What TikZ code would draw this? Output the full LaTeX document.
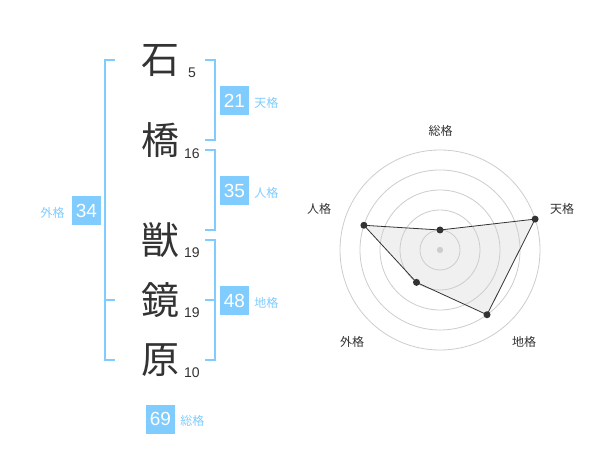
\documentclass[tikz,border=0pt]{standalone}
\usepackage{fontspec}
\setmainfont{Liberation Sans}
\newfontfamily\cjk{Noto Sans CJK JP}
\definecolor{accent}{RGB}{128,204,255}
\definecolor{ink}{RGB}{51,51,51}
\definecolor{ringc}{RGB}{205,205,205}
\definecolor{areac}{RGB}{240,240,240}
\tikzset{
  kanji/.style={inner sep=0pt, text=ink, font=\cjk\fontsize{38}{38}\selectfont},
  strokes/.style={inner sep=0pt, anchor=base, text=ink, font=\fontsize{14}{14}\selectfont},
  numbox/.style={fill=accent, text=white, minimum size=29pt, inner sep=0pt, font=\fontsize{19}{19}\selectfont},
  boxlbl/.style={inner sep=0pt, text=accent, font=\cjk\fontsize{12}{12}\selectfont},
  bracket/.style={draw=accent, line width=2pt},
  ring/.style={draw=ringc, line width=0.8pt},
  radarlbl/.style={inner sep=0pt, text=ink, font=\cjk\fontsize{12}{12}\selectfont},
  dot/.style={circle, fill=ink, inner sep=0pt, minimum size=7pt},
  edge/.style={draw=ink, line width=0.8pt},
}
\begin{document}
\begin{tikzpicture}[x=1pt,y=-1pt]
\useasboundingbox (0,0) rectangle (600,470);
\fill[white] (0,0) rectangle (600,470);

% characters
\node[kanji] (k1) at (160,61) {石};
\node[kanji] (k2) at (160,140) {橋};
\node[kanji] (k3) at (160,240) {獣};
\node[kanji] (k4) at (160,300) {鏡};
\node[kanji] (k5) at (160,360) {原};

\node[strokes] (s1) at (192,77.7) {5};
\node[strokes] (s2) at (192,158.3) {16};
\node[strokes] (s3) at (192,257.5) {19};
\node[strokes] (s4) at (192,317.7) {19};
\node[strokes] (s5) at (192,377.7) {10};

% brackets
\draw[bracket] (205,60) -- (215,60) -- (215,140) -- (205,140);
\draw[bracket] (205,150) -- (215,150) -- (215,230) -- (205,230);
\draw[bracket] (205,240) -- (215,240) -- (215,360) -- (205,360);
\draw[bracket] (205,300) -- (215,300);
\draw[bracket] (115,60) -- (105,60) -- (105,360) -- (115,360);
\draw[bracket] (105,300) -- (115,300);

% boxes
\node[numbox] (b21) at (234.5,100.5) {21};
\node[numbox] (b35) at (234.5,190.5) {35};
\node[numbox] (b48) at (234.5,300.5) {48};
\node[numbox] (b34) at (86.5,210.5) {34};
\node[numbox] (b69) at (160.5,419) {69};

\node[boxlbl, anchor=base west] (l21) at ([xshift=5pt]b21.base east) {天格};
\node[boxlbl, anchor=base west] (l35) at ([xshift=5pt]b35.base east) {人格};
\node[boxlbl, anchor=base west] (l48) at ([xshift=5pt]b48.base east) {地格};
\node[boxlbl, anchor=base east] (l34) at ([xshift=-7pt]b34.base west) {外格};
\node[boxlbl, anchor=base west] (l69) at ([xshift=5pt]b69.base east) {総格};

% radar
\begin{scope}[shift={(440,250)}, yscale=-1]
  \coordinate (rc) at (0,0);
  \coordinate (pS) at (90:20);
  \coordinate (pT) at (18:100);
  \coordinate (pC) at (-54:80);
  \coordinate (pG) at (234:40);
  \coordinate (pJ) at (162:80);
  \fill[areac] (pS) -- (pT) -- (pC) -- (pG) -- (pJ) -- cycle;
  \foreach \r in {20,40,60,80,100} {\draw[ring] (rc) circle[radius=\r];}
  \fill[ringc] (rc) circle[radius=3.2];
  \draw[edge] (pS) -- (pT) -- (pC) -- (pG) -- (pJ) -- cycle;
  \node[dot] (dS) at (pS) {};
  \node[dot] (dT) at (pT) {};
  \node[dot] (dC) at (pC) {};
  \node[dot] (dG) at (pG) {};
  \node[dot] (dJ) at (pJ) {};
\end{scope}

\node[radarlbl] (rS) at (440.5,130.8) {総格};
\node[radarlbl] (rT) at (562,208.5) {天格};
\node[radarlbl] (rC) at (524,342) {地格};
\node[radarlbl] (rG) at (352,342) {外格};
\node[radarlbl] (rJ) at (319,208.5) {人格};
\end{tikzpicture}
\end{document}
